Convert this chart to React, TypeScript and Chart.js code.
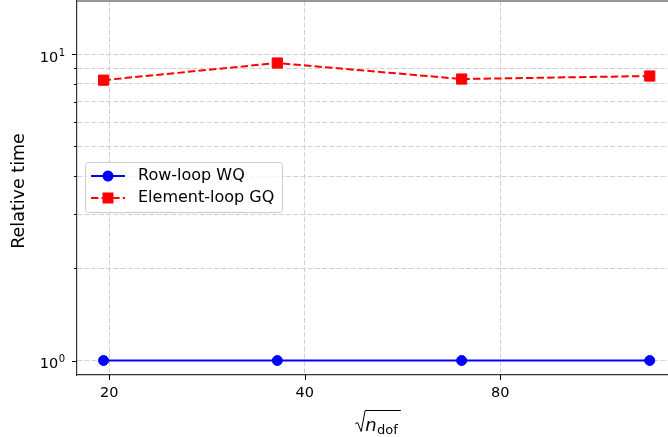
import React, { useEffect, useRef } from "react";
import { Chart, registerables } from "chart.js";

Chart.register(...registerables);

// ---- data ----
const xValues = [19.6, 36.3, 69.8, 136];
const rowLoopWQ = [1, 1, 1, 1];
const elementLoopGQ = [8.22, 9.35, 8.29, 8.48];
const seriesLabels = ["Row-loop WQ", "Element-loop GQ"];
const xTickValues = [20, 40, 80];
const yMajorTicks = [1, 10];
const yMajorExponents = ["0", "1"];
const yMinorTicks = [2, 3, 4, 5, 6, 7, 8, 9];
const yTitle = "Relative time";

const X_MIN = 17.84;
const X_MAX = 149.8;
const Y_MIN = 0.897;
const Y_MAX = 14.9;

const FONT = "'DejaVu Sans', sans-serif";

const decorPlugin = {
  id: "decor",
  afterDraw(chart: any) {
    const { ctx, chartArea: a, scales } = chart;
    const xs = scales.x;
    const ys = scales.y;
    ctx.save();
    // top / right spines
    ctx.strokeStyle = "#333";
    ctx.lineWidth = 1.2;
    ctx.beginPath();
    ctx.moveTo(a.left, a.top);
    ctx.lineTo(a.right, a.top);
    ctx.lineTo(a.right, a.bottom);
    ctx.stroke();

    // tick marks
    ctx.strokeStyle = "#000";
    ctx.lineWidth = 1;
    const hline = (x1: number, x2: number, y: number) => {
      ctx.beginPath();
      ctx.moveTo(x1, y);
      ctx.lineTo(x2, y);
      ctx.stroke();
    };
    yMajorTicks.forEach((v) => {
      const py = Math.round(ys.getPixelForValue(v)) + 0.5;
      hline(a.left - 5, a.left, py);
    });
    yMinorTicks.forEach((v) => {
      const py = Math.round(ys.getPixelForValue(v)) + 0.5;
      hline(a.left - 3, a.left, py);
    });
    xTickValues.forEach((v) => {
      const px = Math.round(xs.getPixelForValue(v)) + 0.5;
      ctx.beginPath();
      ctx.moveTo(px, a.bottom);
      ctx.lineTo(px, a.bottom + 5);
      ctx.stroke();
    });

    // y major tick labels: 10^k
    ctx.fillStyle = "#000";
    ctx.textBaseline = "alphabetic";
    yMajorTicks.forEach((v, i) => {
      const py = ys.getPixelForValue(v);
      const right = a.left - 12;
      ctx.font = `10px ${FONT}`;
      const wExp = ctx.measureText(yMajorExponents[i]).width;
      ctx.textAlign = "right";
      ctx.fillText(yMajorExponents[i], right, py + 1.5);
      ctx.font = `14.5px ${FONT}`;
      ctx.fillText("10", right - wExp - 0.5, py + 7.5);
    });

    // y title
    ctx.fillStyle = "#000";
    ctx.font = `17.5px ${FONT}`;
    ctx.textAlign = "center";
    ctx.textBaseline = "middle";
    ctx.save();
    ctx.translate(19, 191);
    ctx.rotate(-Math.PI / 2);
    ctx.fillText(yTitle, 0, 0);
    ctx.restore();

    // x title: sqrt(n_dof)
    ctx.textAlign = "left";
    ctx.textBaseline = "alphabetic";
    const italFont = `italic 18px ${FONT}`;
    const subFont = `13px ${FONT}`;
    ctx.font = italFont;
    const wN = ctx.measureText("n").width;
    ctx.font = subFont;
    const wSub = ctx.measureText("dof").width;
    const wRoot = 10;
    const total = wRoot + wN + 0.5 + wSub + 3;
    const cx = 378;
    const base = 431;
    let x0 = cx - total / 2;
    const barY = 410.5;
    ctx.strokeStyle = "#000";
    ctx.lineWidth = 1;
    ctx.beginPath();
    ctx.moveTo(x0, base - 7);
    ctx.lineTo(x0 + 2.5, base - 8.5);
    ctx.lineTo(x0 + 6, base + 0.5);
    ctx.lineTo(x0 + wRoot, barY);
    ctx.lineTo(x0 + total, barY);
    ctx.stroke();
    x0 += wRoot;
    ctx.font = italFont;
    ctx.fillText("n", x0, base);
    x0 += wN + 0.5;
    ctx.font = subFont;
    ctx.fillText("dof", x0, base + 3);

    // legend
    const lx = 85, ly = 162, lw = 197, lh = 50;
    ctx.fillStyle = "rgba(255,255,255,0.8)";
    ctx.strokeStyle = "#cccccc";
    ctx.lineWidth = 1;
    ctx.beginPath();
    (ctx as any).roundRect(lx + 0.5, ly + 0.5, lw, lh, 3);
    ctx.fill();
    ctx.stroke();
    const rows = [176, 198];
    const colors = ["#0000ff", "#ff0000"];
    rows.forEach((ry, i) => {
      ctx.strokeStyle = colors[i];
      ctx.fillStyle = colors[i];
      ctx.lineWidth = 2;
      ctx.setLineDash(i === 1 ? [7.4, 3.2] : []);
      ctx.beginPath();
      ctx.moveTo(91, ry);
      ctx.lineTo(125, ry);
      ctx.stroke();
      ctx.setLineDash([]);
      if (i === 0) {
        ctx.beginPath();
        ctx.arc(108, ry, 5.5, 0, Math.PI * 2);
        ctx.fill();
      } else {
        ctx.fillRect(108 - 5.5, ry - 5.5, 11, 11);
      }
      ctx.fillStyle = "#000";
      ctx.font = `16px ${FONT}`;
      ctx.textAlign = "left";
      ctx.textBaseline = "middle";
      ctx.fillText(seriesLabels[i], 138, ry);
    });
    ctx.restore();
  },
};

export default function App() {
  const ref = useRef<HTMLCanvasElement | null>(null);
  useEffect(() => {
    if (!ref.current) return;
    const gridColor = "#d0d0d0";
    const zeroPad = (s: any) => {
      s.paddingTop = 0;
      s.paddingBottom = 0;
      s.paddingLeft = 0;
      s.paddingRight = 0;
    };
    const chart = new Chart(ref.current, {
      type: "line",
      data: {
        datasets: [
          {
            label: seriesLabels[0],
            data: xValues.map((x, i) => ({ x, y: rowLoopWQ[i] })),
            borderColor: "#0000ff",
            backgroundColor: "#0000ff",
            borderWidth: 2,
            pointStyle: "circle",
            pointRadius: 5,
            pointBorderWidth: 1,
            pointHoverRadius: 5,
            tension: 0,
          },
          {
            label: seriesLabels[1],
            data: xValues.map((x, i) => ({ x, y: elementLoopGQ[i] })),
            borderColor: "#ff0000",
            backgroundColor: "#ff0000",
            borderWidth: 2,
            borderDash: [7.4, 3.2],
            pointStyle: "rect",
            pointRadius: 7.2,
            pointBorderWidth: 1,
            pointHoverRadius: 7.2,
            tension: 0,
          },
        ],
      },
      options: {
        responsive: false,
        animation: false,
        events: [],
        layout: { autoPadding: false, padding: { top: 1, right: 3, left: 0, bottom: 0 } },
        plugins: {
          legend: { display: false },
          tooltip: { enabled: false },
        },
        scales: {
          x: {
            type: "logarithmic",
            min: X_MIN,
            max: X_MAX,
            afterBuildTicks: (s: any) => {
              s.ticks = xTickValues.map((v) => ({ value: v }));
            },
            afterFit: (s: any) => {
              s.height = 62;
              zeroPad(s);
            },
            ticks: {
              autoSkip: false,
              maxRotation: 0,
              padding: 10,
              color: "#000",
              font: { family: FONT, size: 14.5 },
              callback: (v: any) => String(v),
            },
            grid: { color: gridColor, lineWidth: 1, drawTicks: false },
            border: { display: true, color: "#333", width: 1.2, dash: [5, 2.2] },
          },
          y: {
            type: "logarithmic",
            min: Y_MIN,
            max: Y_MAX,
            afterBuildTicks: (s: any) => {
              s.ticks = [...yMajorTicks, ...yMinorTicks]
                .sort((p, q) => p - q)
                .map((v) => ({ value: v }));
            },
            afterFit: (s: any) => {
              s.width = 77;
              zeroPad(s);
            },
            ticks: {
              display: false,
              autoSkip: false,
            },
            grid: { color: gridColor, lineWidth: 1, drawTicks: false },
            border: { display: true, color: "#333", width: 1.2, dash: [5, 2.2] },
          },
        },
      },
      plugins: [decorPlugin],
    } as any);
    return () => chart.destroy();
  }, []);
  return (
    <div
      style={{
        position: "fixed",
        left: 0,
        top: 0,
        width: 668,
        height: 437,
        overflow: "hidden",
        background: "#fff",
      }}
    >
      <canvas ref={ref} width={680} height={437} style={{ display: "block" }} />
    </div>
  );
}
